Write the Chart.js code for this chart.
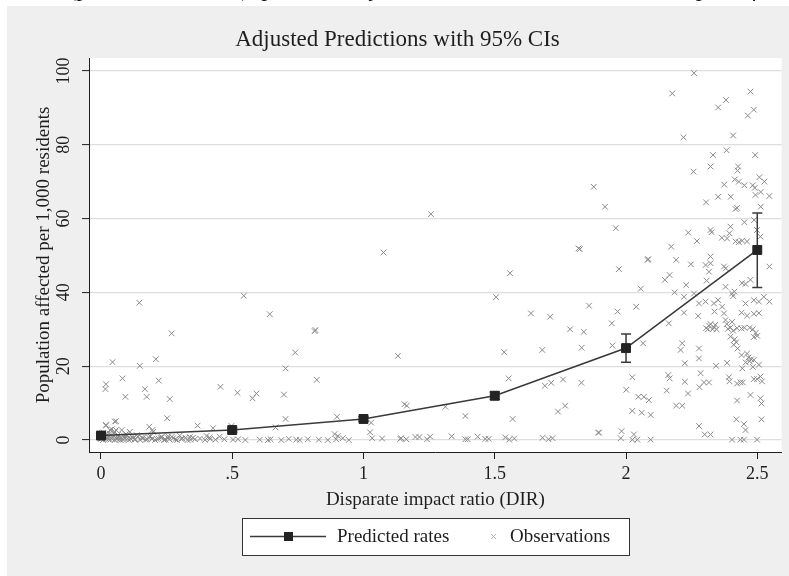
<!DOCTYPE html>
<html lang="en">
<head>
<meta charset="UTF-8">
<title>Adjusted Predictions with 95% CIs</title>
<script src="https://cdn.jsdelivr.net/npm/chart.js@4.4.0/dist/chart.umd.min.js"></script>
<style>
    html, body { margin: 0; padding: 0; background: #fff; }
    #wrap { position: relative; width: 789px; height: 576px; overflow: hidden; }
    #caption { position: absolute; left: 0; top: 0; width: 789px; height: 6px; overflow: hidden; z-index: 2; }
    #caption span { position: absolute; left: -70px; top: -25px; white-space: nowrap; font: italic 24px "Liberation Serif", serif; color: #111; }
    canvas { position: absolute; left: 0; top: 0; }
</style>
</head>
<body>
<div id="wrap">
    <div id="caption"><span>Eviction rates (per 1,000 renters), predicted by the DIR, overlaid with a scatter plot of observed</span></div>
    <canvas id="chart" width="789" height="576"></canvas>
</div>
<script>
    const titleText = 'Adjusted Predictions with 95% CIs';
    const xTitle = 'Disparate impact ratio (DIR)';
    const yTitle = 'Population affected per 1,000 residents';
    const legendLabels = ['Predicted rates', 'Observations'];

    const xTicks = [0, 0.5, 1, 1.5, 2, 2.5];
    const xTickLabels = ['0', '.5', '1', '1.5', '2', '2.5'];
    const yTicks = [0, 20, 40, 60, 80, 100];

    // margins at each DIR value
    const predX = [0, 0.5, 1, 1.5, 2, 2.5];
    const predY = [1.2, 2.7, 5.7, 12.0, 24.9, 51.5];
    const ciLow = [0.6, 2.2, 5.1, 11.0, 21.1, 41.3];
    const ciHigh = [1.8, 3.2, 6.3, 13.0, 28.7, 61.5];

    // observed counties
    const obsX = [
        2.259,2.176,2.474,2.381,2.351,2.487,2.464,2.219,2.408,2.383,2.331,2.492,2.322,2.257,2.427,2.425,2.374,
        2.414,2.430,2.451,2.483,2.490,2.508,2.527,2.493,2.513,2.546,2.351,2.399,2.305,2.417,2.423,2.513,1.920,1.961,
        2.451,2.488,2.237,2.270,2.322,2.326,2.398,2.394,2.365,2.385,2.417,2.430,2.442,2.461,2.172,2.499,2.512,
        1.973,2.082,2.085,2.191,2.247,2.303,2.322,2.316,2.322,2.373,2.380,2.166,2.148,2.307,2.229,2.056,2.185,2.379,
        2.442,2.455,2.474,2.546,2.404,2.413,2.408,2.221,2.259,2.278,2.303,2.351,2.335,2.366,2.455,2.487,2.506,2.525,2.546,
        1.968,2.039,1.946,2.221,2.275,2.337,2.373,2.379,2.440,2.461,2.487,2.506,2.163,
        2.305,2.316,2.322,2.335,2.345,2.330,2.312,2.340,2.384,2.388,2.398,2.404,2.408,2.423,2.440,2.451,2.471,2.483,2.494,2.500,2.487,
        2.398,2.414,2.420,2.410,2.425,2.440,2.461,2.466,2.477,2.487,2.456,2.483,2.506,2.471,
        2.214,2.208,2.278,2.278,2.224,2.343,2.385,2.443,2.065,1.948,2.024,2.001,2.161,2.166,2.224,2.284,2.280,2.297,2.316,
        2.392,2.394,2.423,2.436,2.445,2.487,2.499,2.518,2.512,2.047,2.068,2.087,2.155,2.236,2.191,2.214,2.423,2.474,2.512,2.516,
        2.024,2.060,2.094,2.420,2.449,2.455,2.516,2.278,2.300,2.322,1.983,1.980,2.030,2.024,2.043,2.094,2.404,2.436,2.449,2.499,1.897,
        1.076,1.819,1.824,1.558,1.505,1.638,1.711,1.859,1.787,1.839,1.131,1.536,1.681,1.831,1.553,1.691,1.715,1.760,1.830,
        1.156,1.165,1.312,1.388,1.568,1.741,1.768,1.894,1.877,1.257,
        1.071,1.140,1.143,1.163,1.198,1.213,1.242,1.254,1.336,1.388,1.397,1.435,1.464,1.477,1.540,1.555,1.574,1.682,1.705,1.720,
        0.146,0.544,0.643,0.269,0.814,0.817,0.044,0.148,0.209,0.740,0.703,0.019,0.017,0.082,0.167,0.174,0.093,0.220,0.262,
        0.455,0.520,0.592,0.577,0.697,0.822,0.703,0.252,0.899,0.057,0.019,0.368,0.427,0.497,0.665,0.184,0.196,0.079,0.041,0.053,
        0.110,0.890,0.902,1.029,1.025,0.034,0.057,0.019,0.053,0.199,0.256,0.300,0.338,0.402,0.414,0.452,0.921,1.033,
        0.503,0.522,0.550,0.605,0.636,0.646,0.687,0.715,0.744,0.757,0.788,0.830,0.864,0.896,0.944,
        0.000,0.004,0.008,0.012,0.016,0.020,0.025,0.030,0.035,0.040,0.046,0.052,0.058,0.064,0.070,0.077,0.084,0.091,0.098,0.106,0.114,0.122,
        0.131,0.140,0.150,0.160,0.171,0.182,0.194,0.206,0.219,0.232,0.246,0.260,0.275,0.290,0.306,0.322,0.340,0.358,0.377,0.396,0.416,0.436,0.470,
        0.002,0.010,0.006,0.015,0.022,0.028,0.033,0.044,0.050,0.062,0.068,0.075,0.088,0.095,0.102,0.118,0.128,0.136,0.155,
        0.176,0.188,0.212,0.228,0.240,0.255,0.270,0.283,0.310,0.330,0.350
    ];
    const obsY = [
        99.4,93.9,94.4,92.1,90.1,89.5,87.9,82.0,82.5,78.5,77.2,77.2,74.1,72.7,74.1,73.0,69.2,
        70.6,70.0,69.0,69.0,68.3,71.2,70.0,66.4,67.2,66.1,65.9,65.9,64.4,62.6,62.9,63.2,63.2,57.4,
        59.0,59.6,56.2,53.9,56.9,56.3,57.8,56.0,54.8,54.6,53.8,53.6,54.0,53.8,52.4,56.9,55.1,
        46.3,48.8,49.0,48.8,47.6,47.4,47.9,45.6,49.7,47.0,46.5,44.7,43.4,43.2,42.0,41.0,40.0,41.5,
        42.5,42.3,43.4,47.0,39.7,40.2,39.0,38.8,39.7,37.0,37.5,37.9,37.0,36.1,37.0,37.9,37.5,38.8,37.5,
        34.8,36.1,31.6,34.5,33.6,34.8,34.3,32.5,34.5,33.7,34.2,34.4,31.6,
        30.3,31.0,31.4,30.5,30.0,30.0,30.0,31.2,31.4,30.1,30.5,32.0,29.6,30.3,30.2,30.4,30.4,30.0,29.0,28.2,27.9,
        28.0,27.3,26.5,25.8,24.8,23.0,23.4,22.3,21.9,21.7,21.0,19.8,20.4,21.3,
        26.2,24.4,24.8,22.1,20.8,20.1,20.9,19.4,26.2,25.6,17.0,13.6,17.6,16.7,15.8,18.1,14.3,15.6,15.6,
        17.0,15.9,15.3,15.6,15.6,16.5,16.5,15.9,17.2,11.7,11.7,10.8,13.4,12.6,9.3,9.3,10.7,12.2,11.3,9.9,
        7.9,7.4,6.8,5.6,4.3,2.7,5.6,3.8,1.5,1.5,2.4,0.5,1.5,0.1,0.1,0.1,0.1,0.1,0.1,0.1,2.0,
        50.8,51.9,51.7,45.2,38.7,34.3,33.4,36.4,30.0,29.3,22.8,23.8,24.4,25.0,16.7,14.7,15.5,16.4,15.5,
        9.7,9.3,9.0,6.5,5.7,7.7,9.3,2.0,68.6,61.2,
        0.4,0.3,0.5,0.2,0.8,0.8,0.2,0.9,1.0,0.2,0.2,0.9,0.3,0.3,0.7,0.1,0.4,0.6,0.2,0.5,
        37.2,39.1,34.1,28.9,29.5,29.8,21.1,20.1,21.9,23.7,19.4,15.1,13.8,16.7,13.8,11.7,11.7,16.1,11.1,
        14.4,12.8,12.6,11.3,12.3,16.3,5.7,5.9,6.3,5.1,3.9,3.9,3.2,3.8,3.4,3.6,2.7,2.7,2.9,2.2,
        2.2,1.6,1.1,4.7,2.1,2.7,2.7,4.1,5.0,2.2,1.0,1.2,0.8,1.1,0.7,0.9,0.5,0.5,
        0.1,0.2,0.0,0.1,0.0,0.2,0.0,0.3,0.1,0.0,0.2,0.1,0.0,0.2,0.0,
        0.3,1.2,0.0,0.8,1.5,0.2,0.6,1.0,0.1,0.4,0.9,0.0,0.5,1.3,0.2,0.7,0.1,0.4,1.1,0.0,0.3,0.6,
        0.2,0.9,0.0,0.5,0.1,0.7,0.3,0.0,0.4,0.8,0.1,0.2,0.5,0.0,0.3,0.6,0.1,0.2,0.4,0.0,0.3,0.1,0.2,
        0.6,2.0,1.8,0.9,1.4,0.2,1.7,0.6,1.9,0.3,1.0,0.0,0.8,1.6,0.4,0.9,0.1,1.3,0.6,
        0.2,1.0,0.3,0.7,0.0,0.5,0.9,0.2,0.4,0.0,0.6
    ];

    const serif = '"Liberation Serif", "Times New Roman", serif';
    const ink = '#1e1e1e';
    const lineColor = '#3a3a3a';
    const markColor = '#232323';
    const obsColor = '#8a8a8a';

    // gray graph region + white plot region
    const backdrop = {
        id: 'backdrop',
        beforeDraw(chart) {
            const { ctx, chartArea: a } = chart;
            ctx.save();
            ctx.fillStyle = '#efefef';
            ctx.fillRect(7, 6, chart.width - 7, chart.height - 6);
            ctx.fillStyle = '#ffffff';
            ctx.fillRect(a.left, a.top, a.right - a.left, a.bottom - a.top);
            ctx.restore();
        }
    };

    // 95% CI bars, drawn between the scatter and the line
    const ciBars = {
        id: 'ciBars',
        afterDatasetDraw(chart, args) {
            if (args.index !== 1) return;
            const xs = chart.scales.x, ys = chart.scales.y, ctx = chart.ctx;
            ctx.save();
            ctx.strokeStyle = lineColor;
            ctx.lineWidth = 1.5;
            predX.forEach((v, i) => {
                const px = xs.getPixelForValue(v);
                const lo = ys.getPixelForValue(ciLow[i]);
                const hi = ys.getPixelForValue(ciHigh[i]);
                ctx.beginPath();
                ctx.moveTo(px, lo); ctx.lineTo(px, hi);
                ctx.moveTo(px - 5, lo); ctx.lineTo(px + 5, lo);
                ctx.moveTo(px - 5, hi); ctx.lineTo(px + 5, hi);
                ctx.stroke();
            });
            ctx.restore();
        }
    };

    // Stata-style boxed legend under the axis title
    const boxLegend = {
        id: 'boxLegend',
        afterDraw(chart) {
            const ctx = chart.ctx;
            const bx = 242, by = 518, bw = 387, bh = 37, cy = by + bh / 2;
            ctx.save();
            ctx.fillStyle = '#ffffff';
            ctx.fillRect(bx, by, bw, bh);
            ctx.strokeStyle = '#333';
            ctx.lineWidth = 1;
            ctx.strokeRect(bx + 0.5, by + 0.5, bw, bh);

            ctx.strokeStyle = lineColor;
            ctx.lineWidth = 1.5;
            ctx.beginPath();
            ctx.moveTo(250, cy); ctx.lineTo(326, cy);
            ctx.stroke();
            ctx.fillStyle = markColor;
            ctx.fillRect(284, cy - 4.5, 9, 9);

            ctx.strokeStyle = '#b0b0b0';
            ctx.lineWidth = 1;
            ctx.beginPath();
            ctx.moveTo(491, cy - 2.5); ctx.lineTo(496, cy + 2.5);
            ctx.moveTo(491, cy + 2.5); ctx.lineTo(496, cy - 2.5);
            ctx.stroke();

            ctx.fillStyle = ink;
            ctx.font = '19px ' + serif;
            ctx.textBaseline = 'middle';
            ctx.textAlign = 'left';
            ctx.fillText(legendLabels[0], 337, cy + 1);
            ctx.fillText(legendLabels[1], 510, cy + 1);
            ctx.restore();
        }
    };

    new Chart(document.getElementById('chart'), {
        type: 'scatter',
        data: {
            datasets: [
                {
                    label: legendLabels[0],
                    data: predX.map((x, i) => ({ x: x, y: predY[i] })),
                    showLine: true,
                    borderColor: lineColor,
                    borderWidth: 1.6,
                    pointStyle: 'rect',
                    pointRadius: 6.3,
                    pointBackgroundColor: markColor,
                    pointBorderColor: markColor,
                    pointBorderWidth: 1,
                    order: 0
                },
                {
                    label: legendLabels[1],
                    data: obsX.map((x, i) => ({ x: x, y: obsY[i] })),
                    pointStyle: 'crossRot',
                    pointRadius: 4,
                    borderColor: obsColor,
                    backgroundColor: obsColor,
                    borderWidth: 1,
                    order: 1
                }
            ]
        },
        options: {
            responsive: false,
            animation: false,
            layout: { padding: { left: 12, right: 6, top: 0, bottom: 64 } },
            plugins: {
                legend: { display: false },
                tooltip: { enabled: false },
                title: {
                    display: true,
                    text: titleText,
                    color: ink,
                    font: { family: serif, size: 23, weight: 'normal' },
                    padding: { top: 26, bottom: 4.4 }
                }
            },
            scales: {
                x: {
                    type: 'linear',
                    min: -0.0456,
                    max: 2.593,
                    afterBuildTicks: s => { s.ticks = xTicks.map(v => ({ value: v })); },
                    afterFit: s => { s.height = 60; },
                    border: { display: true, color: ink, width: 1 },
                    grid: { display: true, drawOnChartArea: false, drawTicks: true, tickLength: 7, tickColor: ink, tickWidth: 1 },
                    ticks: {
                        callback: (v, i) => xTickLabels[i],
                        color: ink,
                        font: { family: serif, size: 18 },
                        padding: 4,
                        maxRotation: 0,
                        autoSkip: false
                    },
                    title: {
                        display: true,
                        text: xTitle,
                        color: ink,
                        font: { family: serif, size: 19 },
                        padding: { top: 0, bottom: 0.6 }
                    }
                },
                y: {
                    type: 'linear',
                    min: -3.25,
                    max: 103.5,
                    afterBuildTicks: s => { s.ticks = yTicks.map(v => ({ value: v })); },
                    afterFit: s => { s.width = 77; },
                    border: { display: true, color: ink, width: 1 },
                    grid: { color: '#dedede', lineWidth: 1.2, drawTicks: true, tickLength: 7, tickColor: ink, tickWidth: 1 },
                    ticks: {
                        color: ink,
                        font: { family: serif, size: 18 },
                        padding: 4,
                        minRotation: 90,
                        maxRotation: 90,
                        crossAlign: 'center'
                    },
                    title: {
                        display: true,
                        text: yTitle,
                        color: ink,
                        font: { family: serif, size: 19 },
                        padding: { top: 20.6, bottom: 0 }
                    }
                }
            }
        },
        plugins: [backdrop, ciBars, boxLegend]
    });
</script>
</body>
</html>
